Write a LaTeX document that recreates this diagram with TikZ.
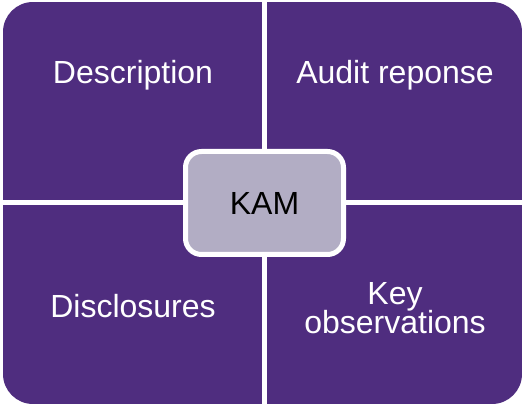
\documentclass[tikz,border=0pt]{standalone}
\usepackage{fontspec}
\setmainfont{Liberation Sans}
\definecolor{gtpurple}{HTML}{4F2D7F}
\definecolor{kamgrey}{HTML}{B2ADC4}
\begin{document}
\begin{tikzpicture}[x=1pt,y=-1pt,
  quad/.style={fill=gtpurple},
  lbl/.style={text=white,font=\fontsize{32}{34}\selectfont,align=center},
  kam/.style={draw=white,line width=5pt,fill=kamgrey,rounded corners=16pt,
    minimum width=158pt,minimum height=103pt,font=\fontsize{32}{34}\selectfont,text=black}]
\useasboundingbox (0,0) rectangle (525,406);
\fill[white] (0,0) rectangle (525,406);
\begin{scope}
  \clip[rounded corners=30pt] (3,2) rectangle (522,404);
  \fill[quad] (3,2) rectangle (262,200);
  \fill[quad] (267,2) rectangle (522,200);
  \fill[quad] (3,205) rectangle (262,404);
  \fill[quad] (267,205) rectangle (522,404);
\end{scope}
\node[lbl] (desc) at (133,75) {Description};
\node[lbl] (audit) at (395,75) {Audit reponse};
\node[lbl] (discl) at (133,306) {Disclosures};
\node[lbl] (keyobs) at (395,308) {Key\\[-5pt]observations};
\node[kam] (kam) at (264.5,203) {KAM};
\end{tikzpicture}
\end{document}
